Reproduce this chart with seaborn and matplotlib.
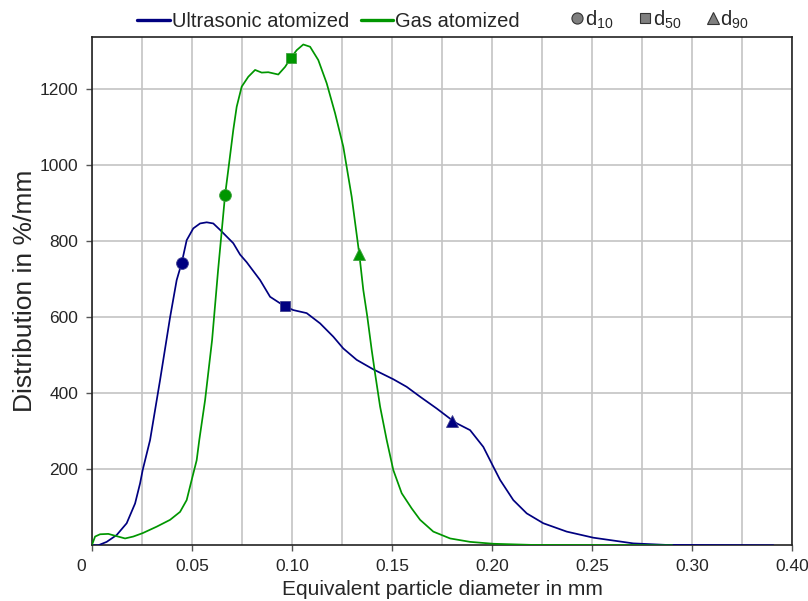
import numpy as np
import pandas as pd
import matplotlib
matplotlib.use("Agg")
import matplotlib.pyplot as plt
import matplotlib.transforms as mtransforms
from matplotlib.lines import Line2D
import seaborn as sns

# ---------------- data ----------------
ultra_x = [0, 0.003, 0.0072, 0.0122, 0.0172, 0.0214, 0.0239, 0.0252, 0.0289, 0.0339,
           0.0389, 0.0422, 0.0447, 0.0472, 0.0505, 0.0539, 0.0572, 0.0605, 0.0639, 0.0705,
           0.0739, 0.0772, 0.0789, 0.0839, 0.0889, 0.0962, 0.1005, 0.1072, 0.1139, 0.1205,
           0.1255, 0.1322, 0.1405, 0.1505, 0.1572, 0.1639, 0.1722, 0.1797, 0.1822, 0.1889,
           0.1955, 0.2005, 0.2039, 0.2105, 0.2172, 0.2255, 0.2372, 0.2505, 0.2705, 0.287,
           0.3405]
ultra_y = [0, 0, 9, 27, 58, 110, 163, 198, 277, 435,
           600, 698, 743, 803, 834, 847, 850, 847, 830, 795,
           765, 745, 733, 698, 654, 629, 619, 611, 584, 549,
           518, 488, 463, 437, 417, 391, 360, 330, 321, 303,
           259, 207, 172, 119, 84, 58, 36, 20, 5, 1,
           0]

gas_x = [0, 0.0014, 0.0039, 0.008, 0.0122, 0.0164, 0.0205, 0.0252, 0.0322, 0.0389,
         0.0439, 0.0472, 0.0497, 0.0522, 0.0535, 0.0564, 0.0599, 0.0629, 0.0664, 0.068,
         0.0705, 0.0722, 0.0747, 0.078, 0.0814, 0.0847, 0.088, 0.093, 0.0964, 0.0992,
         0.1022, 0.1055, 0.1089, 0.113, 0.1172, 0.1214, 0.1255, 0.1297, 0.1335, 0.1355,
         0.1375, 0.1397, 0.1414, 0.1439, 0.1472, 0.1505, 0.1547, 0.1597, 0.1639, 0.1705,
         0.1789, 0.1889, 0.2005, 0.22, 0.29]
gas_y = [3, 23, 29, 30, 24, 18, 23, 32, 49, 67,
         88, 119, 172, 224, 277, 382, 540, 724, 922, 988,
         1093, 1154, 1207, 1233, 1251, 1244, 1245, 1239, 1259, 1282,
         1303, 1318, 1312, 1277, 1216, 1137, 1049, 917, 766, 672,
         602, 514, 452, 365, 277, 198, 137, 97, 67, 36,
         18, 9, 4, 1, 0]

# characteristic diameters d10, d50, d90
ultra_d_x = [0.0447, 0.0962, 0.1797]
ultra_d_y = [743, 629, 328]
gas_d_x = [0.0664, 0.0992, 0.1335]
gas_d_y = [922, 1282, 766]

x_ticks = [0, 0.05, 0.10, 0.15, 0.20, 0.25, 0.30, 0.35]
x_tick_labels = ["0", "0.05", "0.10", "0.15", "0.20", "0.25", "0.30", "0.40"]
y_ticks = [200, 400, 600, 800, 1000, 1200]
series_names = ["Ultrasonic atomized", "Gas atomized"]
marker_names = ["d$_{10}$", "d$_{50}$", "d$_{90}$"]

# ---------------- style ----------------
sns.set_style("white")
plt.rcParams["font.family"] = ["Liberation Sans", "DejaVu Sans"]
plt.rcParams["mathtext.fontset"] = "custom"
plt.rcParams["mathtext.rm"] = "Liberation Sans"
plt.rcParams["mathtext.it"] = "Liberation Sans:italic"

BLUE = "#000080"
GREEN = "#009600"

fig = plt.figure(figsize=(8.08, 6.01), dpi=100)
ax = fig.add_axes([0.1142, 0.0927, 0.8664, 0.8453])

df_u = pd.DataFrame({"x": ultra_x, "y": ultra_y})
df_g = pd.DataFrame({"x": gas_x, "y": gas_y})
sns.lineplot(data=df_u, x="x", y="y", ax=ax, color=BLUE, lw=1.25, sort=False,
             estimator=None, zorder=3)
sns.lineplot(data=df_g, x="x", y="y", ax=ax, color=GREEN, lw=1.25, sort=False,
             estimator=None, zorder=3)

mk = ["o", "s", "^"]
for i in range(3):
    ax.plot(ultra_d_x[i], ultra_d_y[i], marker=mk[i], ms=8.5 if i != 1 else 7.5,
            color=BLUE, mec="#404090", mew=0.6, zorder=4, ls="none")
    ax.plot(gas_d_x[i], gas_d_y[i], marker=mk[i], ms=8.5 if i != 1 else 7.5,
            color=GREEN, mec="#40a040", mew=0.6, zorder=4, ls="none")

ax.set_xlim(0, 0.35)
ax.set_ylim(0, 1337)
ax.set_xticks(x_ticks)
ax.set_xticklabels(x_tick_labels)
ax.set_xticks(np.arange(0.025, 0.35, 0.05), minor=True)
ax.set_yticks(y_ticks)

ax.grid(True, which="both", axis="x", color="#c4c4c4", lw=1.2, zorder=0)
ax.grid(True, which="major", axis="y", color="#c4c4c4", lw=1.2, zorder=0)
ax.set_axisbelow(True)

ax.tick_params(axis="both", which="major", labelsize=12.5, length=4, width=1,
               color="#555555", direction="out", bottom=True, left=True, pad=6)
ax.tick_params(axis="x", which="minor", length=0)
for s in ax.spines.values():
    s.set_color("#222222")
    s.set_linewidth(1.2)

# shift the "0" label left
lbl0 = ax.get_xticklabels()[0]
lbl0.set_transform(lbl0.get_transform() + mtransforms.ScaledTranslation(-11.5 / 100, 0, fig.dpi_scale_trans))

ax.set_xlabel("Equivalent particle diameter in mm", fontsize=15, labelpad=4)
ax.set_ylabel("Distribution in %/mm", fontsize=19, labelpad=2)

# legends
line_handles = [Line2D([], [], color=BLUE, lw=2.4), Line2D([], [], color=GREEN, lw=2.4)]
leg1 = ax.legend(line_handles, series_names, loc="lower left", bbox_to_anchor=(0.05, 0.993),
                 ncol=2, frameon=False, fontsize=14.5, handlelength=1.6, handletextpad=0.1,
                 columnspacing=0.6, borderaxespad=0.1)
ax.add_artist(leg1)
mk_handles = [Line2D([], [], ls="none", marker=m, color="#7f7f7f", mec="#333333", mew=0.8,
                     ms=8 if m != "s" else 7) for m in mk]
ax.legend(mk_handles, marker_names, loc="lower left", bbox_to_anchor=(0.6714, 0.993),
          ncol=3, frameon=False, fontsize=14.5, handlelength=0.5, handletextpad=0.12,
          columnspacing=1.33, borderaxespad=0.1)

fig.savefig("out.png", dpi=100)
